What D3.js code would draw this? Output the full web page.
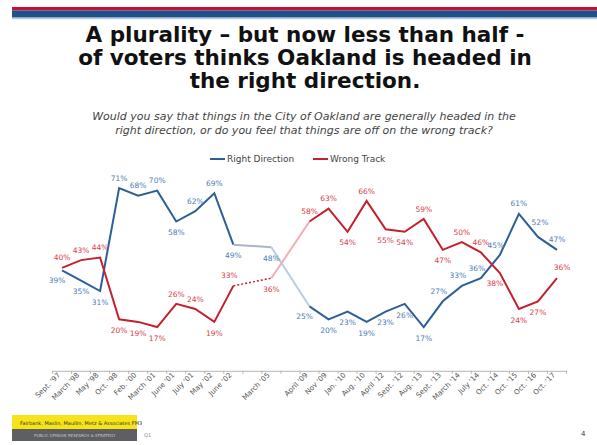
<!DOCTYPE html>
<html>
<head>
<meta charset="utf-8">
<script src="https://cdn.jsdelivr.net/npm/d3@7"></script>
<style>
  body { margin: 0; background: #fff; }
  svg { display: block; }
</style>
</head>
<body>
<div id="chart"></div>
<script>
// survey waves (blank slots keep the gap before/after March '05)
const categories = ["Sept. '97", "March '98", "May '98", "Oct. '98", "Feb. '00", "March '01", "June '01",
  "July '01", "May '02", "June '02", "", "March '05", "", "April '09", "Nov '09", "Jan. '10", "Aug. '10",
  "April '12", "Sept. '12", "Aug. '13", "Sept. '13", "March '14", "July '14", "Oct. '14", "Oct. '15",
  "Oct. '16", "Oct. '17"];
const rightDirection = [39, 35, 31, 71, 68, 70, 58, 62, 69, 49, null, 48, null, 25, 20, 23, 19, 23, 26,
  17, 27, 33, 36, 45, 61, 52, 47];
const wrongTrack = [40, 43, 44, 20, 19, 17, 26, 24, 19, 33, null, 36, null, 58, 63, 54, 66, 55, 54,
  59, 47, 50, 46, 38, 24, 27, 36];
// where each value label sits relative to its point
const rightLabelPos = ['bl', 'b', 'b', 't', 't', 't', 'b', 't', 't', 'b', null, 'b', null, 'bl', 'b', 'b', 'b',
  'b', 'b', 'b', 'tl', 'tl', 'tl', 'tl', 't', 'tt', 't'];
const wrongLabelPos = ['t', 't', 't', 'b', 'b', 'b', 't', 't', 'b', 'tl', null, 'b', null, 't', 't', 'b', 't',
  'b', 'b', 't', 'b', 't', 't', 'bl', 'b', 'b', 'tr'];
const titleLines = ['A plurality \u2013 but now less than half -', 'of voters thinks Oakland is headed in',
  'the right direction.'];
const subtitleLines = ['Would you say that things in the City of Oakland are generally headed in the',
  'right direction, or do you feel that things are off on the wrong track?'];

const width = 597;
const height = 445;
const blue = '#2d5f96';
const blueText = '#4d7bb8';
const red = '#c4202e';
const redText = '#d63d48';
const font = 'DejaVu Sans, Verdana, sans-serif';

const offsets = {
  t: [0, -10], b: [0, 11], tl: [-4, -10], bl: [-5, 10], tr: [5, -11], tt: [2, -15],
};

const svg = d3.select('#chart').append('svg')
  .attr('width', width)
  .attr('height', height);

// header bars
svg.append('rect').attr('x', 12).attr('y', 7).attr('width', width - 12).attr('height', 3.5).attr('fill', '#c8102e');
svg.append('rect').attr('x', 12).attr('y', 10.5).attr('width', width - 12).attr('height', 7).attr('fill', '#1f4f8d');
svg.append('rect').attr('x', 12).attr('y', 18).attr('width', width - 12).attr('height', 1.2).attr('fill', '#b4cbe6');

svg.append('g').selectAll('text')
  .data(titleLines)
  .enter()
  .append('text')
  .attr('x', 305)
  .attr('y', (d, i) => 41.5 + i * 23)
  .attr('text-anchor', 'middle')
  .style('font-family', font)
  .style('font-weight', 'bold')
  .style('font-size', '21.5px')
  .style('fill', '#111')
  .text(d => d);

svg.append('g').selectAll('text')
  .data(subtitleLines)
  .enter()
  .append('text')
  .attr('x', 304)
  .attr('y', (d, i) => 120 + i * 13.5)
  .attr('text-anchor', 'middle')
  .style('font-family', font)
  .style('font-style', 'italic')
  .style('font-size', '11px')
  .style('fill', '#444')
  .text(d => d);

// scales
const x = d3.scaleBand()
  .domain(d3.range(categories.length))
  .range([52.5, 566.5]);
const y = d3.scaleLinear()
  .domain([0, 100])
  .range([370.8, 113.4]);
const cx = i => x(i) + x.bandwidth() / 2;

// x axis
const axis = svg.append('g')
  .attr('transform', `translate(0,${y(0)})`)
  .call(d3.axisBottom(x).tickSize(0).tickFormat(i => categories[i]));
axis.select('.domain').attr('stroke', '#b5b5b5');
axis.selectAll('text')
  .attr('text-anchor', 'end')
  .attr('transform', 'translate(-3,3) rotate(-45)')
  .attr('dy', '0.35em')
  .attr('y', 0)
  .style('font-family', font)
  .style('font-size', '7.2px')
  .style('fill', '#555');
axis.selectAll('.bounds')
  .data(d3.range(categories.length + 1))
  .enter()
  .append('line')
  .attr('x1', i => x.range()[0] + i * x.step())
  .attr('x2', i => x.range()[0] + i * x.step())
  .attr('y1', 0)
  .attr('y2', 3)
  .attr('stroke', '#b5b5b5');

const line = d3.line()
  .defined(d => d.v !== null)
  .x(d => cx(d.i))
  .y(d => y(d.v));

function seg(values, from, to) {
  return d3.range(from, to + 1).map(i => ({ i, v: values[i] })).filter(d => d.v !== null);
}

// series with the same styling breaks the original uses
const series = [
  { values: rightDirection, color: blue, bridge: '#a9b6c8', fade: '#b9cde6', dash: null },
  { values: wrongTrack, color: red, bridge: red, fade: '#eeb0b6', dash: '2,2' },
];
series.forEach((s) => {
  const g = svg.append('g').attr('fill', 'none').attr('stroke-width', 2);
  g.append('path').attr('d', line(seg(s.values, 0, 9))).attr('stroke', s.color);
  g.append('path').attr('d', line(seg(s.values, 9, 11))).attr('stroke', s.bridge)
    .attr('stroke-dasharray', s.dash).attr('stroke-width', s.dash ? 1.5 : 2);
  g.append('path').attr('d', line(seg(s.values, 11, 13))).attr('stroke', s.fade);
  g.append('path').attr('d', line(seg(s.values, 13, categories.length - 1))).attr('stroke', s.color);
});

function labels(values, pos, color) {
  svg.append('g').selectAll('text')
    .data(values.map((v, i) => ({ v, i, p: pos[i] })).filter(d => d.v !== null))
    .enter()
    .append('text')
    .attr('x', d => cx(d.i) + offsets[d.p][0])
    .attr('y', d => y(d.v) + offsets[d.p][1])
    .attr('dy', '0.35em')
    .attr('text-anchor', 'middle')
    .style('font-family', font)
    .style('font-size', '7.5px')
    .style('fill', color)
    .text(d => `${d.v}%`);
}
labels(rightDirection, rightLabelPos, blueText);
labels(wrongTrack, wrongLabelPos, redText);

// legend
const legend = [{ name: 'Right Direction', color: blue, x: 210 }, { name: 'Wrong Track', color: red, x: 313 }];
const lg = svg.append('g');
lg.selectAll('line')
  .data(legend)
  .enter()
  .append('line')
  .attr('x1', d => d.x)
  .attr('x2', d => d.x + 15)
  .attr('y1', 159)
  .attr('y2', 159)
  .attr('stroke', d => d.color)
  .attr('stroke-width', 2);
lg.selectAll('text')
  .data(legend)
  .enter()
  .append('text')
  .attr('x', d => d.x + 17)
  .attr('y', 159)
  .attr('dy', '0.35em')
  .style('font-family', font)
  .style('font-size', '9px')
  .style('fill', '#444')
  .text(d => d.name);

// footer
svg.append('rect').attr('x', 12).attr('y', 415).attr('width', 125).attr('height', 14).attr('fill', '#f7e31a');
svg.append('rect').attr('x', 12).attr('y', 429).attr('width', 125).attr('height', 12).attr('fill', '#5d5f62');
svg.append('text').attr('x', 20).attr('y', 424.5)
  .style('font-family', font).style('font-size', '5px').style('fill', '#333')
  .text('Fairbank, Maslin, Maullin, Metz & Associates  FM3');
svg.append('text').attr('x', 34).attr('y', 437)
  .style('font-family', font).style('font-size', '4px').style('fill', '#c8c8c8')
  .text('PUBLIC OPINION RESEARCH & STRATEGY');
svg.append('text').attr('x', 144).attr('y', 437)
  .style('font-family', font).style('font-size', '5px').style('fill', '#888')
  .text('Q1');
svg.append('text').attr('x', 581).attr('y', 436)
  .style('font-family', font).style('font-size', '7px').style('fill', '#333')
  .text('4');
</script>
</body>
</html>
